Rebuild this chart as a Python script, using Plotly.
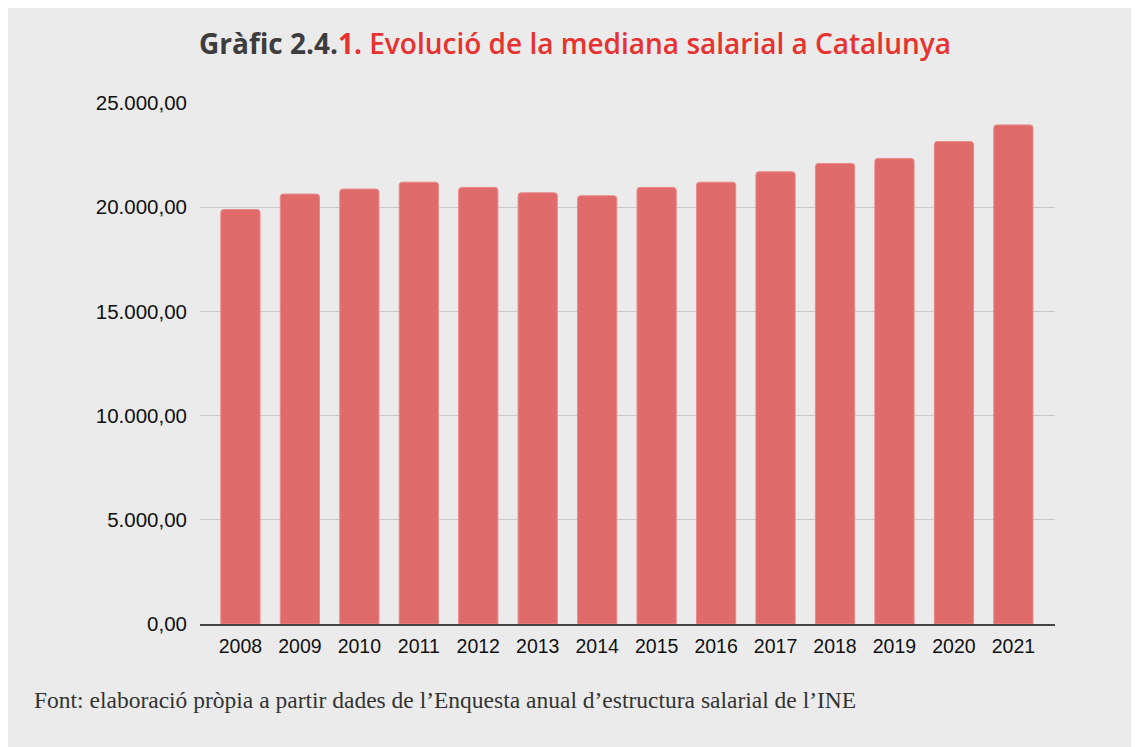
import plotly.graph_objects as go

years = ["2008", "2009", "2010", "2011", "2012", "2013", "2014",
         "2015", "2016", "2017", "2018", "2019", "2020", "2021"]
median_salary = [19890, 20630, 20870, 21200, 20950, 20690, 20550,
                 20950, 21200, 21700, 22100, 22340, 23150, 23950]
y_ticks = [0, 5000, 10000, 15000, 20000, 25000]

# page body adds an 8px offset; positions below are in figure coordinates
W, H = 1139, 747
L, R, T, B = 192, 92, 95, 131
pw, ph = W - L - R, H - T - B

def px(x):
    return (x - L) / pw

def py(y):
    return (H - B - y) / ph

fig = go.Figure()
fig.add_trace(go.Bar(
    x=years, y=median_salary,
    marker=dict(color="#E06B6B", line=dict(color="#E88A8A", width=1), cornerradius=3),
    width=0.66,
))

fig.update_layout(
    width=W, height=H,
    margin=dict(l=L, r=R, t=T, b=B),
    paper_bgcolor="#EBEBEB",
    plot_bgcolor="rgba(0,0,0,0)",
    separators=",.",
    showlegend=False,
    title=dict(
        text="<b><span style='color:#3d3d3d'>Gràfic 2.4.</span>"
             "<span style='color:#E8322F'>1.</span></b>"
             "<span style='color:#E8322F;font-weight:600'> Evolució de la mediana salarial a Catalunya</span>",
        x=567 / W, xanchor="center", xref="container",
        y=1 - 36 / H, yanchor="middle", yref="container",
        font=dict(family="Open Sans", size=28),
    ),
    xaxis=dict(
        type="category",
        range=[-0.68, 13.7],
        showline=True, linecolor="#444444", linewidth=1.5,
        showgrid=False, ticks="",
        tickfont=dict(family="Liberation Sans, Arial", size=19.5, color="#111111"),
        ticklabelstandoff=4,
    ),
    yaxis=dict(
        range=[0, 25000],
        tickvals=y_ticks,
        tickformat=",.2f",
        showgrid=True, gridcolor="#C8C8C8", gridwidth=1.2,
        zeroline=False, showline=False, ticks="",
        tickfont=dict(family="Liberation Sans, Arial", size=20.5, color="#111111"),
        ticklabelstandoff=12,
    ),
    annotations=[dict(
        text="Font: elaboració pròpia a partir dades de l’Enquesta anual d’estructura salarial de l’INE",
        xref="paper", yref="paper", x=px(24), y=py(692),
        xanchor="left", yanchor="middle", showarrow=False,
        font=dict(family="Liberation Serif, Times New Roman", size=23.5, color="#333333"),
    )],
)

fig.write_html("out.html")
